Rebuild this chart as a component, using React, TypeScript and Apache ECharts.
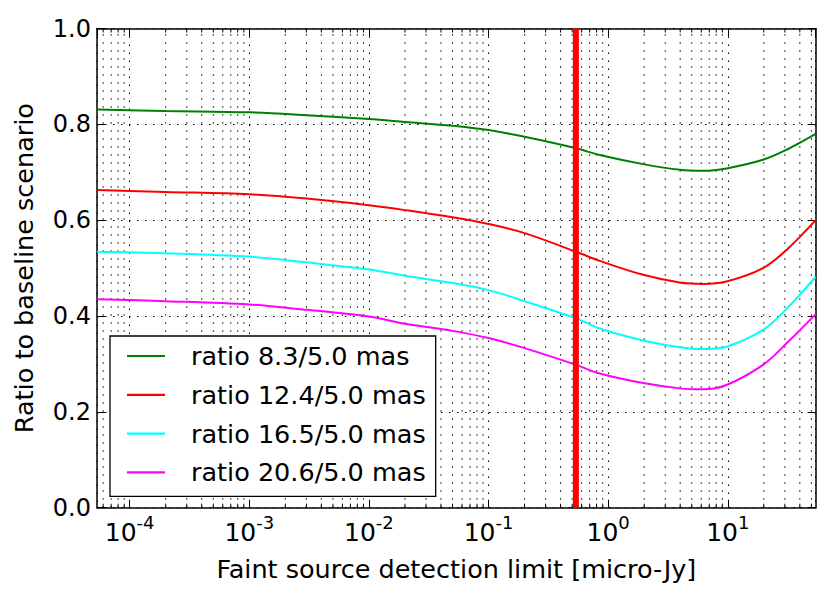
import React, { useEffect, useRef } from 'react';
import * as echarts from 'echarts';

// Faint source detection limit [micro-Jy]
const xValues = [5.33e-5, 2e-4, 1e-3, 3e-3, 1e-2, 2e-2, 5e-2, 0.1, 0.2, 0.54, 0.85, 1.96, 3.97, 6.2, 9.75, 19.7, 31, 54.3];
const ratio83 = [0.831, 0.828, 0.825, 0.819, 0.811, 0.805, 0.797, 0.788, 0.774, 0.750, 0.736, 0.717, 0.705, 0.703, 0.708, 0.726, 0.747, 0.780];
const ratio124 = [0.663, 0.659, 0.654, 0.645, 0.631, 0.621, 0.606, 0.592, 0.573, 0.534, 0.515, 0.486, 0.470, 0.467, 0.472, 0.500, 0.538, 0.600];
const ratio165 = [0.534, 0.531, 0.524, 0.512, 0.497, 0.484, 0.469, 0.454, 0.431, 0.395, 0.374, 0.349, 0.335, 0.331, 0.336, 0.371, 0.415, 0.482];
const ratio206 = [0.435, 0.431, 0.424, 0.413, 0.399, 0.384, 0.369, 0.354, 0.333, 0.298, 0.280, 0.260, 0.249, 0.247, 0.256, 0.298, 0.343, 0.404];

const seriesNames = ['ratio 8.3/5.0 mas', 'ratio 12.4/5.0 mas', 'ratio 16.5/5.0 mas', 'ratio 20.6/5.0 mas'];
const seriesColors = ['#008000', '#ff0000', '#00ffff', '#ff00ff'];
const seriesValues = [ratio83, ratio124, ratio165, ratio206];

const thresholdX = 0.537;

const X_MIN = 5.33e-5;
const X_MAX = 54.3;
const Y_MIN = 0;
const Y_MAX = 1;
const Y_STEP = 0.2;

const decades = [-5, -4, -3, -2, -1, 0, 1];
const minorMultipliers = [2, 3, 4, 5, 6, 7, 8, 9];

const FONT = 'DejaVu Sans';
const DOT = [1.5, 6.5];

export default function App() {
  const ref = useRef<HTMLDivElement>(null);

  useEffect(() => {
    if (!ref.current) return;
    const chart = echarts.init(ref.current, undefined, { renderer: 'svg' });

    const minorPositions: number[][] = [];
    decades.forEach((d) => {
      minorMultipliers.forEach((m) => {
        const v = m * Math.pow(10, d);
        if (v > X_MIN && v < X_MAX) minorPositions.push([v, Y_MIN]);
      });
    });

    const xLabelFormatter = (v: number) => {
      const lg = Math.log10(v);
      const e = Math.round(lg);
      if (Math.abs(lg - e) > 1e-6) return '';
      return `{b|10}{s|${e}}`;
    };

    const lineSeries = seriesNames.map((name, i) => ({
      name,
      type: 'line',
      data: xValues.map((x, j) => [x, seriesValues[i][j]]),
      symbol: 'none',
      smooth: 0.35,
      lineStyle: { color: seriesColors[i], width: 2 },
      itemStyle: { color: seriesColors[i] },
      z: 3,
    }));

    const option: any = {
      animation: false,
      textStyle: { fontFamily: FONT, color: '#000' },
      grid: { left: 97, top: 28.5, right: 15.3, bottom: 89.3, containLabel: false },
      legend: {
        data: seriesNames.map((n, i) => ({ name: n, icon: 'rect', itemStyle: { color: seriesColors[i] } })),
        orient: 'vertical',
        left: 110,
        top: 336,
        itemWidth: 38,
        itemHeight: 2.2,
        itemGap: 12.8,
        padding: [7, 10, 11, 17],
        backgroundColor: '#fff',
        borderColor: '#000',
        borderWidth: 1.3,
        borderRadius: 0,
        selectedMode: false,
        formatter: (n: string) => `{t|${n}}`,
        textStyle: {
          fontFamily: FONT,
          fontSize: 25.5,
          color: '#000',
          rich: { t: { fontFamily: FONT, fontSize: 25.5, lineHeight: 25, color: '#000', padding: [0, 0, 0, 21] } },
        },
      },
      xAxis: [
        {
          type: 'log',
          logBase: 10,
          min: X_MIN,
          max: X_MAX,
          position: 'bottom',
          name: 'Faint source detection limit [micro-Jy]',
          nameLocation: 'middle',
          nameGap: 44,
          nameTextStyle: { fontFamily: FONT, fontSize: 25.5, color: '#000' },
          axisLine: { show: true, onZero: false, lineStyle: { color: '#000', width: 1.5 } },
          axisTick: { show: true, inside: true, length: 8, lineStyle: { color: '#000', width: 1 } },
          axisLabel: {
            show: true,
            margin: 10,
            fontFamily: FONT,
            fontSize: 25,
            color: '#000',
            showMinLabel: false,
            showMaxLabel: false,
            formatter: xLabelFormatter,
            rich: {
              b: { fontFamily: FONT, fontSize: 25, lineHeight: 29, color: '#000', verticalAlign: 'middle' },
              s: { fontFamily: FONT, fontSize: 18, lineHeight: 21, color: '#000', verticalAlign: 'middle', padding: [0, 0, 20, 0] },
            },
          },
          splitLine: { show: true, lineStyle: { color: '#000', width: 1, type: DOT } },
        },
        {
          type: 'log',
          logBase: 10,
          min: X_MIN,
          max: X_MAX,
          position: 'top',
          axisLine: { show: true, onZero: false, lineStyle: { color: '#000', width: 1.5 } },
          axisTick: { show: true, inside: true, length: 8, lineStyle: { color: '#000', width: 1 } },
          axisLabel: { show: false },
          splitLine: { show: false },
        },
      ],
      yAxis: [
        {
          type: 'value',
          min: Y_MIN,
          max: Y_MAX,
          interval: Y_STEP,
          position: 'left',
          name: 'Ratio to baseline scenario',
          nameLocation: 'middle',
          nameGap: 60,
          nameTextStyle: { fontFamily: FONT, fontSize: 25.5, color: '#000' },
          axisLine: { show: true, onZero: false, lineStyle: { color: '#000', width: 1.5 } },
          axisTick: { show: true, inside: true, length: 8, lineStyle: { color: '#000', width: 1 } },
          axisLabel: {
            margin: 6,
            fontFamily: FONT,
            fontSize: 24,
            color: '#000',
            formatter: (v: number) => v.toFixed(1),
          },
          splitLine: { show: true, lineStyle: { color: '#000', width: 1, type: DOT } },
        },
        {
          type: 'value',
          min: Y_MIN,
          max: Y_MAX,
          interval: Y_STEP,
          position: 'right',
          axisLine: { show: true, onZero: false, lineStyle: { color: '#000', width: 1.5 } },
          axisTick: { show: true, inside: true, length: 8, lineStyle: { color: '#000', width: 1 } },
          axisLabel: { show: false },
          splitLine: { show: false },
        },
      ],
      series: [
        {
          name: 'minor-grid',
          type: 'custom',
          silent: true,
          xAxisIndex: 0,
          yAxisIndex: 0,
          z: 1,
          data: minorPositions,
          encode: { x: 0, y: 1 },
          renderItem: (params: any, api: any) => {
            const x = api.value(0);
            const bot = api.coord([x, Y_MIN]);
            const top = api.coord([x, Y_MAX]);
            return {
              type: 'group',
              children: [
                {
                  type: 'line',
                  shape: { x1: bot[0], y1: bot[1], x2: top[0], y2: top[1] },
                  style: { stroke: '#000', lineWidth: 1, lineDash: DOT },
                },
                {
                  type: 'line',
                  shape: { x1: bot[0], y1: bot[1], x2: bot[0], y2: bot[1] - 4 },
                  style: { stroke: '#000', lineWidth: 1 },
                },
                {
                  type: 'line',
                  shape: { x1: top[0], y1: top[1], x2: top[0], y2: top[1] + 4 },
                  style: { stroke: '#000', lineWidth: 1 },
                },
              ],
            };
          },
        },
        ...lineSeries,
        {
          name: 'threshold',
          type: 'line',
          data: [[thresholdX, Y_MIN], [thresholdX, Y_MAX]],
          symbol: 'none',
          lineStyle: { color: '#ff0000', width: 6 },
          z: 4,
          silent: true,
        },
      ],
    };

    chart.setOption(option);
    return () => chart.dispose();
  }, []);

  return <div ref={ref} style={{ position: 'absolute', left: 0, top: 0, width: 831, height: 597 }} />;
}
